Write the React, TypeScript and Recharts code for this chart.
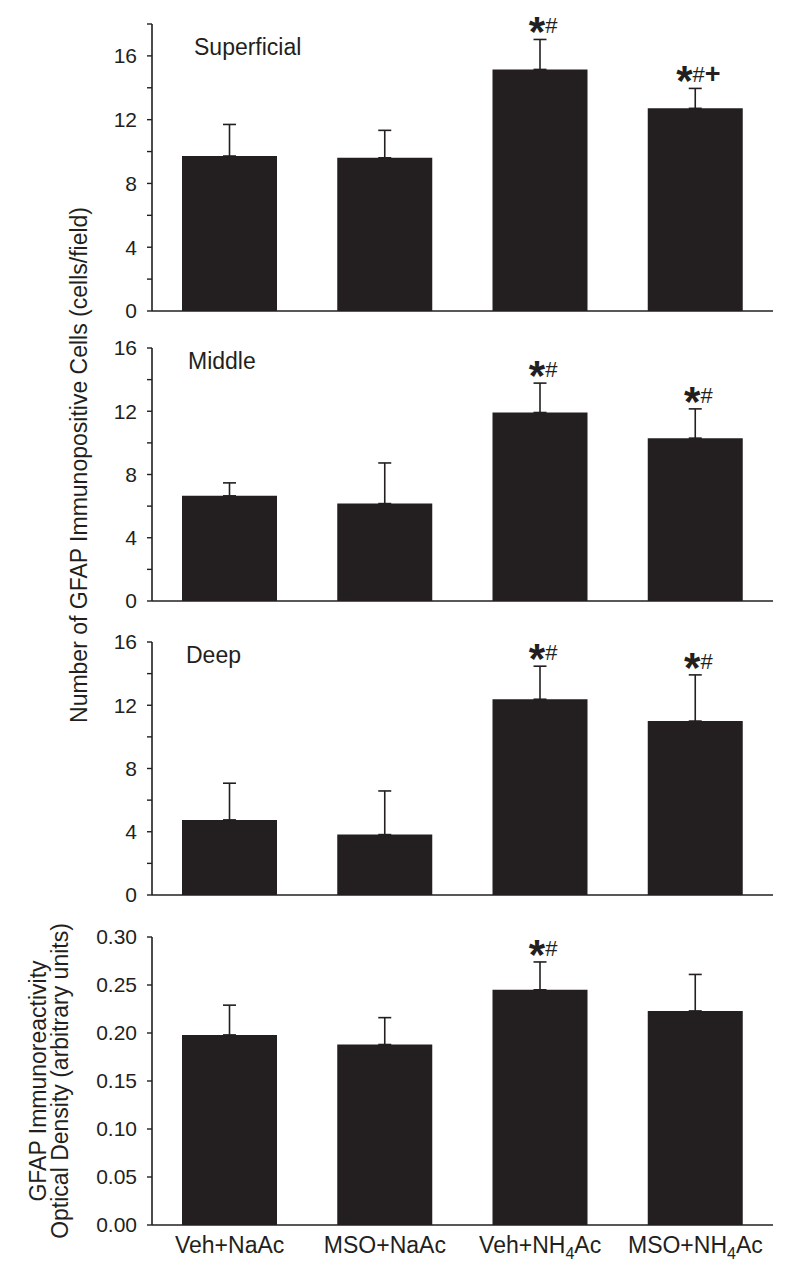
import React from "react";
import { ComposedChart, Bar, ErrorBar, Line, XAxis, YAxis } from "recharts";

const CATEGORIES = ["Veh+NaAc", "MSO+NaAc", "Veh+NH4Ac", "MSO+NH4Ac"];

const SUPERFICIAL_MEAN = [9.72, 9.61, 15.15, 12.71];
const SUPERFICIAL_SD = [1.98, 1.72, 1.88, 1.25];
const SUPERFICIAL_SIG = ["", "", "*#", "*#+"];

const MIDDLE_MEAN = [6.65, 6.16, 11.92, 10.3];
const MIDDLE_SD = [0.82, 2.57, 1.86, 1.85];
const MIDDLE_SIG = ["", "", "*#", "*#"];

const DEEP_MEAN = [4.75, 3.82, 12.38, 11.0];
const DEEP_SD = [2.32, 2.76, 2.09, 2.92];
const DEEP_SIG = ["", "", "*#", "*#"];

const OD_MEAN = [0.198, 0.188, 0.245, 0.223];
const OD_SD = [0.031, 0.028, 0.029, 0.038];
const OD_SIG = ["", "", "*#", ""];

const COUNT_TICKS_18 = [0, 2, 4, 6, 8, 10, 12, 14, 16, 18];
const COUNT_TICKS_16 = [0, 2, 4, 6, 8, 10, 12, 14, 16];
const OD_TICKS = [0, 0.05, 0.1, 0.15, 0.2, 0.25, 0.3];

const INK = "#231f20";
const FONT = "'Liberation Sans', Arial, Helvetica, sans-serif";

function buildRows(means: number[], sds: number[]) {
  return CATEGORIES.map((name, i) => ({
    name,
    mean: means[i],
    err: [0, sds[i]],
    top: means[i] + sds[i],
  }));
}

function makeAnnot(sig: string[]) {
  return (props: any) => {
    const { x, y, index } = props;
    const s = sig[index];
    if (!s || x == null || y == null) return null;
    let offset = 0;
    const spans = s.split("").map((ch, k) => {
      let target = 0;
      let size = 22;
      let weight = 400;
      if (ch === "*") {
        target = 13;
        size = 42;
        weight = 700;
      } else if (ch === "+") {
        target = 1;
        size = 27;
        weight = 700;
      }
      const dy = target - offset;
      offset = target;
      return (
        <tspan key={k} dy={dy} fontSize={size} fontWeight={weight}>
          {ch}
        </tspan>
      );
    });
    return (
      <text
        x={x + 3}
        y={y - 6}
        textAnchor="middle"
        fill={INK}
        fontFamily={FONT}
      >
        {spans}
      </text>
    );
  };
}

const XTick = (props: any) => {
  const { x, y, payload } = props;
  const v: string = payload.value;
  const parts = v.split("NH4");
  return (
    <text
      x={x}
      y={y + 27.5}
      textAnchor="middle"
      fontSize={23}
      fill={INK}
      fontFamily={FONT}
    >
      {parts.length === 2 ? (
        <>
          <tspan>{parts[0] + "NH"}</tspan>
          <tspan fontSize={16} dy={6}>
            4
          </tspan>
          <tspan dy={-6}>{parts[1]}</tspan>
        </>
      ) : (
        v
      )}
    </text>
  );
};

type PanelProps = {
  top: number;
  height: number;
  marginTop: number;
  marginBottom: number;
  means: number[];
  sds: number[];
  sig: string[];
  domain: [number, number];
  ticks: number[];
  fmt: (v: number) => string;
  showX: boolean;
  tickFont: number;
};

function Panel(p: PanelProps) {
  const rows = buildRows(p.means, p.sds);
  return (
    <div style={{ position: "absolute", left: 0, top: p.top }}>
      <ComposedChart
        width={792}
        height={p.height}
        data={rows}
        margin={{ top: p.marginTop, right: 19, bottom: p.marginBottom, left: 52 }}
      >
        <XAxis
          dataKey="name"
          type="category"
          height={p.showX ? 45 : 3}
          axisLine={{ stroke: INK, strokeWidth: 1.6 }}
          tickLine={false}
          tickSize={0}
          tickMargin={0}
          tick={p.showX ? <XTick /> : false}
          interval={0}
        />
        <YAxis
          width={100}
          domain={p.domain}
          ticks={p.ticks}
          interval={0}
          allowDataOverflow
          tickFormatter={p.fmt}
          axisLine={{ stroke: INK, strokeWidth: 1.6 }}
          tickLine={{ stroke: INK, strokeWidth: 1.4 }}
          tickSize={5}
          tickMargin={10}
          tick={{ fontSize: p.tickFont, fill: INK, fontFamily: FONT }}
        />
        <Bar dataKey="mean" fill={INK} barSize={95} isAnimationActive={false}>
          <ErrorBar
            dataKey="err"
            width={6.5}
            stroke={INK}
            strokeWidth={1.6}
            direction="y"
          />
        </Bar>
        <Line
          dataKey="top"
          stroke="none"
          dot={false}
          activeDot={false}
          isAnimationActive={false}
          label={makeAnnot(p.sig)}
        />
      </ComposedChart>
    </div>
  );
}

const countFmt = (v: number) => (v % 4 === 0 ? String(v) : "");
const odFmt = (v: number) => v.toFixed(2);

export default function App() {
  return (
    <div
      style={{
        position: "absolute",
        left: 0,
        top: 0,
        width: 792,
        height: 1272,
        background: "#fff",
      }}
    >
      <Panel
        top={0}
        height={330}
        marginTop={24}
        marginBottom={16}
        means={SUPERFICIAL_MEAN}
        sds={SUPERFICIAL_SD}
        sig={SUPERFICIAL_SIG}
        domain={[0, 18]}
        ticks={COUNT_TICKS_18}
        fmt={countFmt}
        showX={false}
        tickFont={21}
      />
      <Panel
        top={314}
        height={306}
        marginTop={34}
        marginBottom={16}
        means={MIDDLE_MEAN}
        sds={MIDDLE_SD}
        sig={MIDDLE_SIG}
        domain={[0, 16]}
        ticks={COUNT_TICKS_16}
        fmt={countFmt}
        showX={false}
        tickFont={21}
      />
      <Panel
        top={604}
        height={310}
        marginTop={38}
        marginBottom={16}
        means={DEEP_MEAN}
        sds={DEEP_SD}
        sig={DEEP_SIG}
        domain={[0, 16]}
        ticks={COUNT_TICKS_16}
        fmt={countFmt}
        showX={false}
        tickFont={21}
      />
      <Panel
        top={898}
        height={372}
        marginTop={39}
        marginBottom={0}
        means={OD_MEAN}
        sds={OD_SD}
        sig={OD_SIG}
        domain={[0, 0.3]}
        ticks={OD_TICKS}
        fmt={odFmt}
        showX={true}
        tickFont={21}
      />
      <svg
        width={792}
        height={1272}
        style={{ position: "absolute", left: 0, top: 0, pointerEvents: "none" }}
      >
        <g fill={INK} fontFamily={FONT} fontSize={23}>
          <text x={194} y={55}>Superficial</text>
          <text x={188} y={369}>Middle</text>
          <text x={186} y={663}>Deep</text>
          <text
            x={87}
            y={465}
            textAnchor="middle"
            transform="rotate(-90 87 465)"
          >
            Number of GFAP Immunopositive Cells (cells/field)
          </text>
          <text
            x={46}
            y={1081}
            textAnchor="middle"
            transform="rotate(-90 46 1081)"
          >
            GFAP Immunoreactivity
          </text>
          <text
            x={68}
            y={1081}
            textAnchor="middle"
            transform="rotate(-90 68 1081)"
          >
            Optical Density (arbitrary units)
          </text>
        </g>
      </svg>
    </div>
  );
}
